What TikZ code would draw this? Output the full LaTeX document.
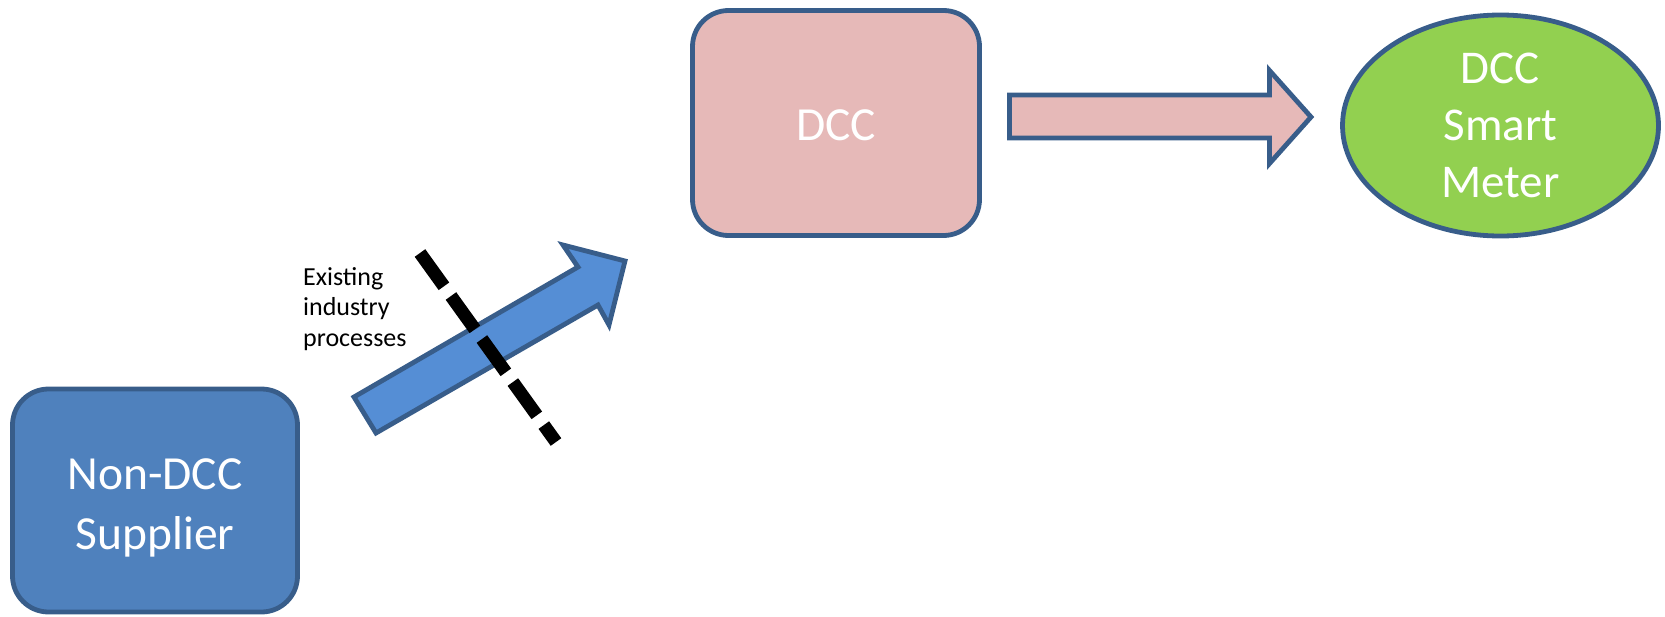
\documentclass[tikz,border=0pt]{standalone}
\usepackage{fontspec}
\setmainfont{Carlito}
\usetikzlibrary{shapes.geometric}
\definecolor{bordc}{HTML}{385D8A}
\definecolor{supfill}{HTML}{4F81BD}
\definecolor{dccfill}{HTML}{E6B9B8}
\definecolor{meterfill}{HTML}{92D050}
\definecolor{arrowblue}{HTML}{558ED5}
\tikzset{
  boxnode/.style={draw=bordc, line width=4.8pt, rounded corners=36pt, inner sep=0pt,
    text=white, align=center, font=\fontsize{47.5}{58}\selectfont},
  ellnode/.style={ellipse, draw=bordc, line width=4.8pt, inner sep=0pt, fill=meterfill,
    text=white, align=center, font=\fontsize{47}{57}\selectfont},
  blockarrow/.style={draw=bordc, line width=4.8pt, line join=miter, miter limit=10},
  cutline/.style={line width=13pt, dash pattern=on 41pt off 12pt, line cap=butt},
  note/.style={align=left, font=\fontsize{26}{30.5}\selectfont, inner sep=0pt, anchor=north west}
}
\begin{document}
\begin{tikzpicture}[x=1pt,y=-1pt]
\path[use as bounding box] (0,0) rectangle (1665,616);
\node[boxnode, fill=supfill, minimum width=285pt, minimum height=223pt, text height=105pt,
  font=\fontsize{47.5}{59.5}\selectfont] (sup) at (155,500.5) {Non-DCC\\Supplier};
\node[boxnode, fill=dccfill, minimum width=287pt, minimum height=225pt, text height=36pt] (dcc) at (836,123) {DCC};
\node[ellnode, minimum width=316pt, minimum height=221pt] (meter) at (1500.5,125.5) {DCC\\Smart\\Meter};
% pink block arrow DCC -> meter
\coordinate (p1) at (1009.5,95);
\coordinate (p2) at (1269.5,95);
\coordinate (p3) at (1269.5,70.5);
\coordinate (p4) at (1311,117);
\coordinate (p5) at (1269.5,163.5);
\coordinate (p6) at (1269.5,138);
\coordinate (p7) at (1009.5,138);
\draw[blockarrow, fill=dccfill] (p1) -- (p2) -- (p3) -- (p4) -- (p5) -- (p6) -- (p7) -- cycle;
% blue block arrow supplier -> DCC
\coordinate (b1) at (354,397);
\coordinate (b2) at (578,267);
\coordinate (b3) at (563,245);
\coordinate (b4) at (625,261);
\coordinate (b5) at (609,325);
\coordinate (b6) at (598,305);
\coordinate (b7) at (376,433);
\draw[blockarrow, fill=arrowblue] (b1) -- (b2) -- (b3) -- (b4) -- (b5) -- (b6) -- (b7) -- cycle;
% dash-dot cut line
\coordinate (c1) at (420,253);
\coordinate (c2) at (556,442);
\draw[cutline] (c1) -- (c2);
\node[note] (lbl) at (303,267) {Existing\\industry\\processes};
\end{tikzpicture}
\end{document}
